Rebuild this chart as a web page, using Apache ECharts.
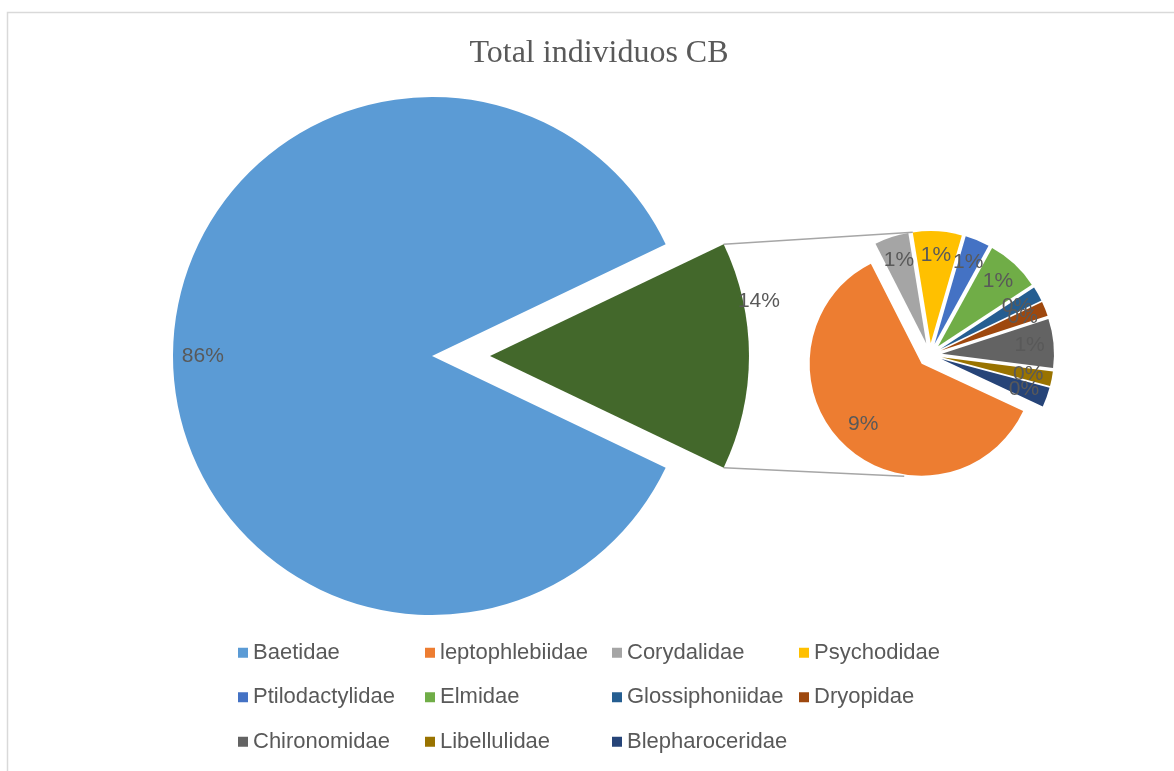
<!DOCTYPE html>
<html>
<head>
<meta charset="utf-8">
<script src="https://cdn.jsdelivr.net/npm/echarts@6/dist/echarts.min.js"></script>
<style>
html,body{margin:0;padding:0;background:#fff;}
#c{width:1174px;height:771px;}
</style>
</head>
<body>
<div id="c"></div>
<script>
// ---- data (values in per mille of all individuals) ----
const chartTitle = 'Total individuos CB';
const mainNames = ['Baetidae', 'Otros'];
const baetidaeValue = 858;
const secNames = ['leptophlebiidae', 'Corydalidae', 'Psychodidae', 'Ptilodactylidae', 'Elmidae',
  'Glossiphoniidae', 'Dryopidae', 'Chironomidae', 'Libellulidae', 'Blepharoceridae'];
const secValues = [86, 7, 10, 5, 11, 3, 3, 10, 3, 4];
const legendNames = ['Baetidae', 'leptophlebiidae', 'Corydalidae', 'Psychodidae', 'Ptilodactylidae',
  'Elmidae', 'Glossiphoniidae', 'Dryopidae', 'Chironomidae', 'Libellulidae', 'Blepharoceridae'];

// ---- styles ----
const mainColors = ['#5B9BD5', '#43682B'];
const secColors = ['#ED7D31', '#A5A5A5', '#FFC000', '#4472C4', '#70AD47',
  '#255E91', '#9E480E', '#636363', '#997300', '#264478'];
const TXT = '#595959';
const FONT = "'Liberation Sans', Arial, sans-serif";

const otherValue = secValues.reduce((a, b) => a + b, 0);
const grandTotal = baetidaeValue + otherValue;
const mainValues = [baetidaeValue, otherValue];

const MAIN = { cx: 432, cy: 356, r: 259, offset: 58 };
const SEC = { cx: 930, cy: 355, r: 112, offset: 12, start: -25 };

function polar(cx, cy, r, deg) {
  const a = deg * Math.PI / 180;
  return [cx + r * Math.cos(a), cy - r * Math.sin(a)];
}
function pct(v) { return Math.round(v * 100 / grandTotal) + '%'; }

const mainStart = -(otherValue / grandTotal) * 180;
const otherHalf = (otherValue / grandTotal) * 180;

// mid angles of the secondary slices (clockwise from start)
const secMid = [];
{
  let cum = 0;
  for (const v of secValues) {
    secMid.push(SEC.start - (cum + v / 2) / otherValue * 360);
    cum += v;
  }
}

const chart = echarts.init(document.getElementById('c'), null, { renderer: 'canvas' });

const greenCenter = polar(MAIN.cx, MAIN.cy, MAIN.offset, 0);
const cornerTop = polar(greenCenter[0], greenCenter[1], MAIN.r, otherHalf);
const cornerBot = polar(greenCenter[0], greenCenter[1], MAIN.r, -otherHalf);
const secTop = polar(SEC.cx, SEC.cy, SEC.r + SEC.offset, 98);
const secBot = polar(SEC.cx, SEC.cy, SEC.r + SEC.offset, -102);

const labelStyle = { fontFamily: FONT, fontSize: 21, color: TXT, opacity: 1 };
const CLEAR = 'rgba(0,0,0,0)';

const mainData = mainNames.map((n, i) => ({ name: n, value: mainValues[i], itemStyle: { color: mainColors[i] } }));
const secData = secNames.map((n, i) => ({ name: n, value: secValues[i], itemStyle: { color: secColors[i] } }));

const option = {
  animation: false,
  backgroundColor: '#ffffff',
  title: {
    text: chartTitle,
    left: 599,
    top: 38,
    padding: 0,
    textAlign: 'center',
    textStyle: { fontFamily: "'Liberation Serif', 'Times New Roman', serif", fontSize: 32, fontWeight: 'normal', color: TXT }
  },
  legend: {
    data: legendNames,
    left: 238,
    top: 636,
    width: 760,
    padding: 0,
    itemGap: 11,
    itemWidth: 10,
    itemHeight: 10,
    icon: 'rect',
    selectedMode: false,
    textStyle: { fontFamily: FONT, fontSize: 22, color: TXT, width: 161, lineHeight: 33.5 }
  },
  graphic: [
    { type: 'rect', shape: { x: 7.5, y: 12.5, width: 1200, height: 800 }, style: { fill: 'none', stroke: '#D9D9D9', lineWidth: 1.5 }, silent: true },
    { type: 'line', shape: { x1: cornerTop[0], y1: cornerTop[1], x2: secTop[0], y2: secTop[1] }, style: { stroke: '#A6A6A6', lineWidth: 1.5 }, silent: true },
    { type: 'line', shape: { x1: cornerBot[0], y1: cornerBot[1], x2: secBot[0], y2: secBot[1] }, style: { stroke: '#A6A6A6', lineWidth: 1.5 }, silent: true }
  ],
  series: [
    // main pie (Baetidae + grouped rest, the rest exploded)
    {
      type: 'pie',
      name: 'main',
      center: [MAIN.cx, MAIN.cy],
      radius: MAIN.r,
      startAngle: mainStart,
      clockwise: true,
      selectedMode: 'single',
      selectedOffset: MAIN.offset,
      avoidLabelOverlap: false,
      emphasis: { disabled: true },
      select: { itemStyle: { borderWidth: 0 } },
      itemStyle: { borderWidth: 0 },
      label: { show: false },
      labelLine: { show: false },
      data: mainData.map((d, i) => Object.assign({}, d, { selected: i === 1 }))
    },
    // secondary pie (breakdown of the grouped rest, all slices exploded)
    {
      type: 'pie',
      name: 'sec',
      center: [SEC.cx, SEC.cy],
      radius: SEC.r,
      startAngle: SEC.start,
      clockwise: true,
      selectedMode: 'multiple',
      selectedOffset: SEC.offset,
      avoidLabelOverlap: false,
      emphasis: { disabled: true },
      select: { itemStyle: { borderWidth: 0 } },
      itemStyle: { borderWidth: 0 },
      label: { show: false },
      labelLine: { show: false },
      data: secData.map(d => Object.assign({}, d, { selected: true }))
    },
    // label layers (transparent sectors, same data) for the percentage labels
    {
      type: 'pie',
      name: 'mainLabels',
      center: [MAIN.cx, MAIN.cy],
      radius: MAIN.r,
      startAngle: mainStart,
      clockwise: true,
      silent: true,
      selectedMode: false,
      avoidLabelOverlap: false,
      emphasis: { disabled: true },
      label: Object.assign({ show: true, position: 'inside', formatter: p => pct(p.value) }, labelStyle),
      labelLine: { show: false },
      labelLayout: function (p) {
        let pt;
        if (p.dataIndex === 0) {
          pt = polar(MAIN.cx, MAIN.cy, MAIN.r * 0.885, 180);
        } else {
          pt = polar(greenCenter[0], greenCenter[1], MAIN.r * 1.06, 11.6);
        }
        return { x: pt[0], y: pt[1], align: 'center', verticalAlign: 'middle' };
      },
      data: mainData.map(d => ({ name: d.name, value: d.value, itemStyle: { color: CLEAR } }))
    },
    {
      type: 'pie',
      name: 'secLabels',
      center: [SEC.cx, SEC.cy],
      radius: SEC.r,
      startAngle: SEC.start,
      clockwise: true,
      silent: true,
      selectedMode: false,
      avoidLabelOverlap: false,
      emphasis: { disabled: true },
      label: Object.assign({ show: true, position: 'inside', formatter: p => pct(p.value) }, labelStyle),
      labelLine: { show: false },
      labelLayout: function (p) {
        const i = p.dataIndex;
        const r = i === 0 ? 96 : 100;
        const pt = polar(SEC.cx, SEC.cy, r, secMid[i]);
        return { x: pt[0], y: pt[1], align: 'center', verticalAlign: 'middle' };
      },
      data: secData.map(d => ({ name: d.name, value: d.value, itemStyle: { color: CLEAR } }))
    }
  ]
};
chart.setOption(option);
</script>
</body>
</html>
